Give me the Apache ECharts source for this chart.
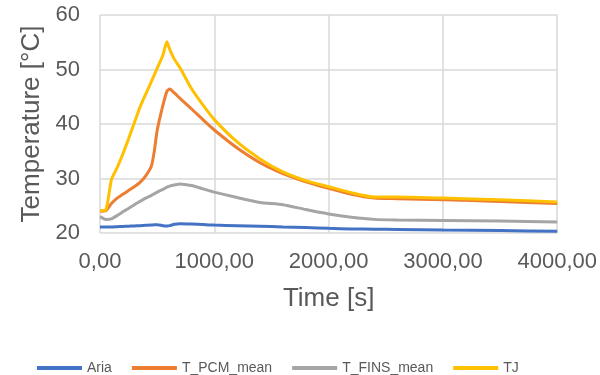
<!DOCTYPE html>
<html>
<head>
<meta charset="utf-8">
<script src="https://cdn.jsdelivr.net/npm/echarts@6/dist/echarts.min.js"></script>
<style>
  html, body { margin: 0; padding: 0; background: #fff; }
  #chart { width: 600px; height: 375px; }
</style>
</head>
<body>
<div id="chart"></div>
<script>
// time [s]
const times = [0, 50, 100, 150, 200, 250, 300, 350, 400, 450, 475, 500, 550, 585, 610, 650, 700,
  800, 900, 1000, 1200, 1400, 1600, 1800, 2000, 2200, 2400, 2600, 3000, 3500, 4000];

// temperatures [°C]
const aria = [21.1, 21.1, 21.1, 21.15, 21.2, 21.25, 21.3, 21.35, 21.4, 21.45, 21.5, 21.5, 21.35, 21.3, 21.35, 21.6, 21.7,
  21.65, 21.55, 21.45, 21.35, 21.25, 21.1, 21.0, 20.85, 20.75, 20.7, 20.65, 20.55, 20.45, 20.3];
const tPcmMean = [24.0, 24.1, 25.4, 26.4, 27.1, 27.8, 28.5, 29.3, 30.5, 32.3, 35.0, 38.8, 43.4, 46.0, 46.4, 45.7, 44.7,
  42.8, 40.8, 38.9, 35.6, 32.9, 30.9, 29.4, 28.2, 27.1, 26.4, 26.3, 26.1, 25.8, 25.4];
const tFinsMean = [23.0, 22.5, 22.6, 23.2, 23.9, 24.5, 25.2, 25.8, 26.4, 26.9, 27.2, 27.5, 28.0, 28.4, 28.6, 28.8, 29.0,
  28.7, 28.1, 27.5, 26.5, 25.6, 25.2, 24.3, 23.5, 22.9, 22.5, 22.4, 22.3, 22.2, 22.0];
const tj = [24.1, 24.2, 29.8, 32.0, 34.5, 37.3, 40.2, 43.1, 45.5, 47.8, 49.0, 50.2, 52.6, 55.1, 53.7, 51.9, 50.3,
  46.5, 43.5, 40.8, 36.7, 33.6, 31.2, 29.6, 28.5, 27.4, 26.6, 26.6, 26.4, 26.1, 25.7];

const seriesNames = ["Aria", "T_PCM_mean", "T_FINS_mean", "TJ"];
const seriesValues = [aria, tPcmMean, tFinsMean, tj];
const colors = ["#4472C4", "#ED7D31", "#A5A5A5", "#FFC000"];

const chart = echarts.init(document.getElementById("chart"));
const labelColor = "#595959";
const gridColor = "#D9D9D9";

const option = {
  animation: false,
  textStyle: { fontFamily: "Liberation Sans" },
  color: colors,
  grid: { left: 100, right: 40, top: 15, bottom: 142 },
  legend: {
    left: 32,
    top: 356,
    icon: "rect",
    itemWidth: 45,
    itemHeight: 4,
    itemGap: 20,
    textStyle: { color: labelColor, fontSize: 14 },
    data: seriesNames,
  },
  xAxis: {
    type: "value",
    min: 0,
    max: 4000,
    interval: 1000,
    name: "Time [s]",
    nameLocation: "middle",
    nameGap: 53,
    nameTextStyle: { color: labelColor, fontSize: 26 },
    axisLine: { show: false },
    axisTick: { show: false },
    axisLabel: {
      color: labelColor,
      fontSize: 22,
      margin: 18,
      formatter: (v) => v.toFixed(2).replace(".", ","),
    },
    splitLine: { lineStyle: { color: gridColor, width: 1.5 } },
  },
  yAxis: {
    type: "value",
    min: 20,
    max: 60,
    interval: 10,
    name: "Temperature [°C]",
    nameLocation: "middle",
    nameGap: 54,
    nameTextStyle: { color: labelColor, fontSize: 26 },
    axisLine: { show: false },
    axisTick: { show: false },
    axisLabel: { color: labelColor, fontSize: 22, margin: 20 },
    splitLine: { lineStyle: { color: gridColor, width: 1.5 } },
  },
  series: seriesNames.map((name, i) => ({
    name: name,
    type: "line",
    symbol: "none",
    smooth: 0.2,
    lineStyle: { width: 3 },
    data: times.map((t, j) => [t, seriesValues[i][j]]),
  })),
};
chart.setOption(option);
</script>
</body>
</html>
